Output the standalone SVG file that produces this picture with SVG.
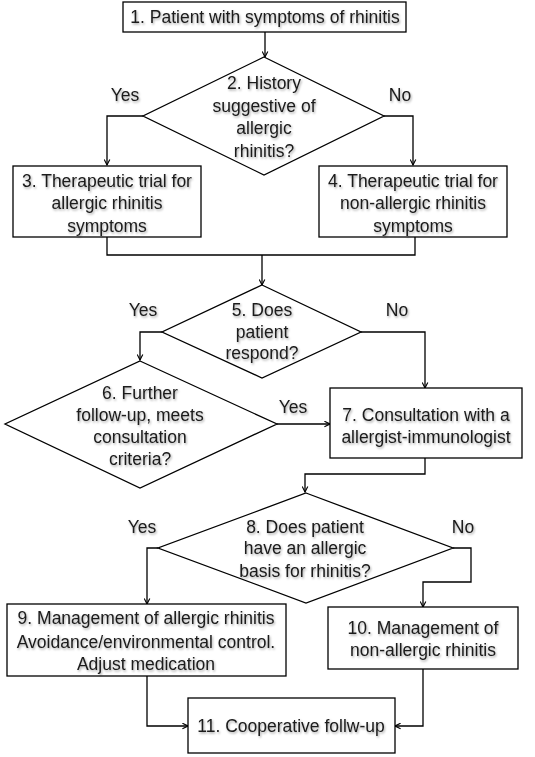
<svg xmlns="http://www.w3.org/2000/svg" width="535" height="757" viewBox="0 0 535 757">
<defs>
<filter id="sh" x="-10%" y="-20%" width="120%" height="150%">
<feDropShadow dx="1" dy="1.5" stdDeviation="0.8" flood-color="#000" flood-opacity="0.35"/>
</filter>
<marker id="ah" viewBox="0 0 10 10" refX="9" refY="5" markerWidth="7" markerHeight="7" markerUnits="userSpaceOnUse" orient="auto">
<path d="M1,1 L9,5 L1,9" fill="none" stroke="#000" stroke-width="1.6"/>
</marker>
<style>
.b{fill:#fff;stroke:#000;stroke-width:1.3}
.c{fill:none;stroke:#000;stroke-width:1.3;marker-end:url(#ah)}
.l{fill:none;stroke:#000;stroke-width:1.3}
text{font-family:"Liberation Sans",Arial,sans-serif;font-size:17.5px;fill:#1a1a1a;text-anchor:middle;dominant-baseline:central;filter:url(#sh)}
</style>
</defs>
<rect width="535" height="757" fill="#fff"/>
<g id="connectors">
<path class="c" d="M265,32 V57"/>
<path class="c" d="M143,116 H107 V165"/>
<path class="c" d="M384,116 H413 V165"/>
<path class="l" d="M107,237 V255 H415 V237"/>
<path class="c" d="M262,255 V285"/>
<path class="c" d="M162,332 H140 V360"/>
<path class="c" d="M361,332 H425 V388"/>
<path class="c" d="M277,424 H330"/>
<path class="c" d="M425,458 V474 H305 V492"/>
<path class="c" d="M158,548 H147 V604"/>
<path class="c" d="M453,548 H471 V582 H423 V607"/>
<path class="c" d="M147,676 V726 H188"/>
<path class="c" d="M423,669 V726 H395"/>
</g>
<g id="n1"><rect class="b" x="123" y="2" width="283" height="30"/><text x="265" y="17">1. Patient with symptoms of rhinitis</text></g>
<g id="n2"><polygon class="b" points="264,57 384,116 264,175 143,116"/>
<text x="264" y="83">2. History</text><text x="264" y="106">suggestive of</text><text x="264" y="128">allergic</text><text x="264" y="151">rhinitis?</text></g>
<g id="n3"><rect class="b" x="13" y="166" width="188" height="71"/>
<text x="107" y="181">3. Therapeutic trial for</text><text x="107" y="203">allergic rhinitis</text><text x="107" y="226">symptoms</text></g>
<g id="n4"><rect class="b" x="319" y="166" width="188" height="71"/>
<text x="413" y="181">4. Therapeutic trial for</text><text x="413" y="203">non-allergic rhinitis</text><text x="413" y="226">symptoms</text></g>
<g id="n5"><polygon class="b" points="262,285 361,332 262,378 162,332"/>
<text x="262" y="310">5. Does</text><text x="262" y="332">patient</text><text x="262" y="353">respond?</text></g>
<g id="n6"><polygon class="b" points="140,361 277,424 140,488 5,424"/>
<text x="140" y="393">6. Further</text><text x="140" y="415">follow-up, meets</text><text x="140" y="437">consultation</text><text x="140" y="459">criteria?</text></g>
<g id="n7"><rect class="b" x="330" y="388" width="192" height="70"/>
<text x="426" y="415">7. Consultation with a</text><text x="426" y="437">allergist-immunologist</text></g>
<g id="n8"><polygon class="b" points="306,493 453,548 306,603 158,548"/>
<text x="305" y="527">8. Does patient</text><text x="305" y="548">have an allergic</text><text x="305" y="571">basis for rhinitis?</text></g>
<g id="n9"><rect class="b" x="7" y="604" width="279" height="72"/>
<text x="146" y="618">9. Management of allergic rhinitis</text><text x="146" y="642">Avoidance/environmental control.</text><text x="146" y="664">Adjust medication</text></g>
<g id="n10"><rect class="b" x="328" y="607" width="190" height="62"/>
<text x="423" y="628">10. Management of</text><text x="423" y="650">non-allergic rhinitis</text></g>
<g id="n11"><rect class="b" x="188" y="698" width="207" height="55"/>
<text x="291" y="726">11. Cooperative follw-up</text></g>
<g id="labels">
<text x="125" y="95">Yes</text><text x="400" y="95">No</text>
<text x="143" y="310">Yes</text><text x="397" y="310">No</text>
<text x="293" y="407">Yes</text>
<text x="142" y="527">Yes</text><text x="463" y="527">No</text>
</g>
</svg>
